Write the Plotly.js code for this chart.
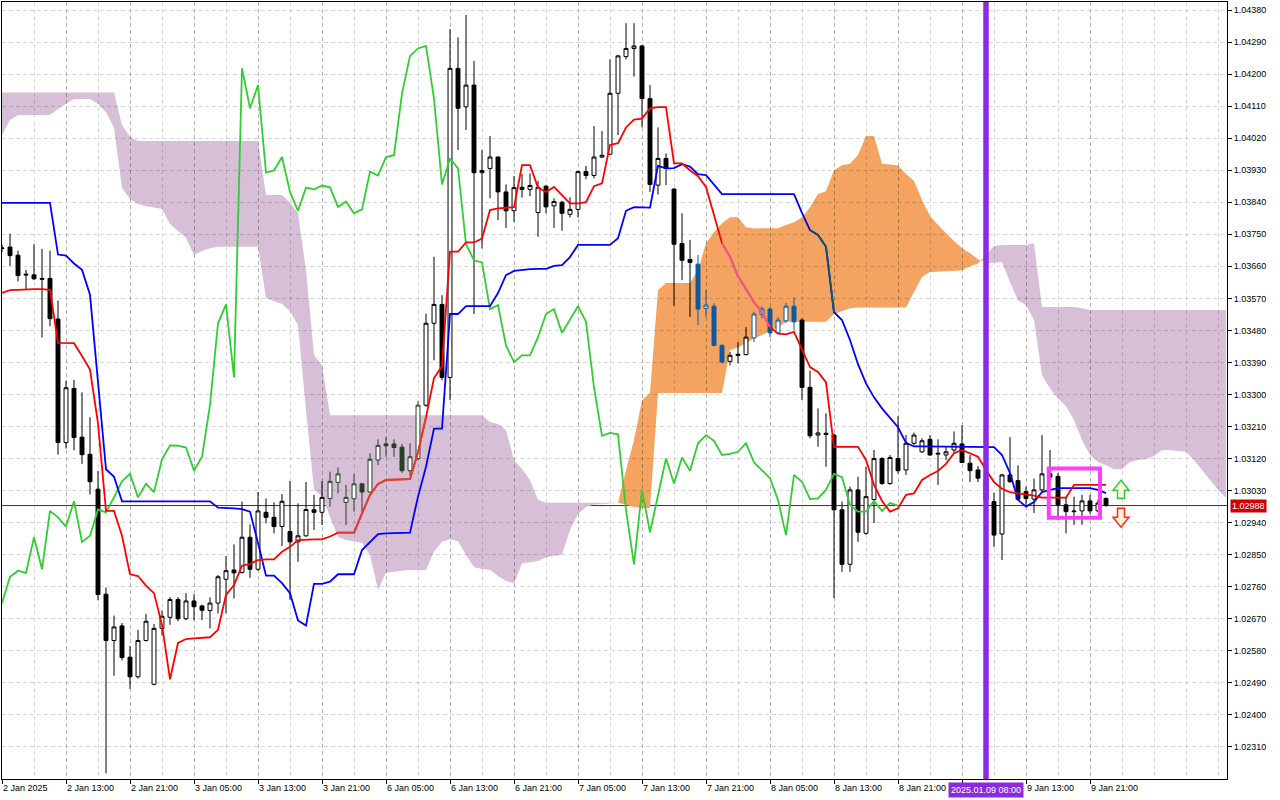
<!DOCTYPE html>
<html><head><meta charset="utf-8">
<script src="https://cdn.plot.ly/plotly-3.0.1.min.js"></script>
<style>html,body{margin:0;padding:0;background:#fff;}#chart{width:1280px;height:800px;}</style>
</head><body><div id="chart"></div>
<script>
// ---- EURUSD-like H1 bars, index 0 = 2 Jan 2025 05:00 ----
const openP = [
1.03712,1.03714,1.03691,1.03638,1.03636,1.03626,1.03626,1.03512,1.03165,1.03317,
1.03180,1.03132,1.03034,1.02739,1.02609,1.02650,1.02562,1.02507,1.02609,1.02486,
1.02643,1.02674,1.02724,1.02670,1.02720,1.02706,1.02693,1.02714,1.02781,1.02807,
1.02800,1.02899,1.02809,1.02969,1.02955,1.02929,1.02915,1.02886,1.02903,1.02976,
1.02969,1.03008,1.03053,1.02997,1.03007,1.03049,1.03026,1.03116,1.03161,1.03161,
1.03152,1.03086,1.03120,1.03270,1.03500,1.03553,1.03348,1.04216,1.04108,1.04169,
1.03923,1.03935,1.03967,1.03869,1.03816,1.03882,1.03876,1.03811,1.03885,1.03830,
1.03840,1.03806,1.03820,1.03926,1.03915,1.03967,1.03975,1.04146,1.04249,1.04272,
1.04279,1.04131,1.03888,1.03963,1.03877,1.03724,1.03679,1.03666,1.03542,1.03548,
1.03438,1.03393,1.03413,1.03412,1.03459,1.03525,1.03540,1.03473,1.03507,1.03548,
1.03509,1.03320,1.03186,1.03191,1.03186,1.02976,1.02823,1.03032,1.02910,1.03005,
1.03120,1.03050,1.03120,1.03088,1.03163,1.03139,1.03174,1.03135,1.03130,1.03144,
1.03161,1.03107,1.03088,1.03065,1.02999,1.02908,1.03074,1.03058,1.03027,1.03006,
1.03032,1.03077,1.03070,1.02990,1.02973,1.02973,1.03001,1.02973,1.03008];
const highP = [
1.03720,1.03752,1.03704,1.03650,1.03722,1.03709,1.03704,1.03564,1.03338,1.03341,
1.03306,1.03236,1.03085,1.02758,1.02679,1.02658,1.02593,1.02639,1.02684,1.02655,
1.02693,1.02731,1.02731,1.02742,1.02739,1.02709,1.02730,1.02793,1.02846,1.02879,
1.02999,1.02935,1.03026,1.03008,1.02997,1.03020,1.03057,1.02994,1.03054,1.03018,
1.03057,1.03083,1.03095,1.03046,1.03077,1.03052,1.03135,1.03174,1.03180,1.03174,
1.03161,1.03163,1.03282,1.03527,1.03687,1.03579,1.04326,1.04303,1.04366,1.04237,
1.03987,1.04026,1.03968,1.03890,1.03914,1.03919,1.03921,1.03900,1.03888,1.03851,
1.03844,1.03854,1.03928,1.03942,1.04054,1.04040,1.04241,1.04254,1.04343,1.04343,
1.04281,1.04169,1.04050,1.03977,1.03879,1.03809,1.03734,1.03692,1.03593,1.03556,
1.03440,1.03419,1.03447,1.03489,1.03532,1.03547,1.03545,1.03517,1.03557,1.03573,
1.03514,1.03367,1.03261,1.03247,1.03190,1.02999,1.03041,1.03069,1.03097,1.03144,
1.03124,1.03130,1.03239,1.03186,1.03193,1.03177,1.03186,1.03174,1.03153,1.03196,
1.03214,1.03130,1.03099,1.03088,1.03024,1.03077,1.03180,1.03101,1.03041,1.03064,
1.03186,1.03144,1.03080,1.03013,1.03013,1.03018,1.03018,1.03004,1.03011];
const lowP = [
1.03700,1.03661,1.03618,1.03596,1.03621,1.03460,1.03492,1.03131,1.03148,1.03143,
1.03105,1.03019,1.02722,1.02236,1.02510,1.02553,1.02473,1.02502,1.02606,1.02483,
1.02623,1.02653,1.02663,1.02666,1.02666,1.02666,1.02643,1.02685,1.02685,1.02727,
1.02797,1.02785,1.02805,1.02938,1.02910,1.02874,1.02723,1.02830,1.02900,1.02919,
1.02933,1.02985,1.03022,1.02933,1.02971,1.02971,1.03024,1.03102,1.03125,1.03125,
1.03080,1.03071,1.03115,1.03265,1.03396,1.03340,1.03284,1.03987,1.04043,1.03526,
1.03710,1.03851,1.03790,1.03768,1.03785,1.03853,1.03857,1.03743,1.03809,1.03768,
1.03760,1.03797,1.03797,1.03905,1.03907,1.03964,1.03972,1.04029,1.04241,1.04193,
1.04050,1.03869,1.03862,1.03888,1.03549,1.03621,1.03518,1.03495,1.03518,1.03435,
1.03387,1.03382,1.03387,1.03410,1.03447,1.03514,1.03460,1.03471,1.03501,1.03481,
1.03284,1.03177,1.03153,1.03097,1.02728,1.02802,1.02802,1.02886,1.02906,1.02939,
1.03046,1.03046,1.03078,1.03074,1.03158,1.03136,1.03128,1.03046,1.03116,1.03135,
1.03107,1.03054,1.03054,1.02995,1.02872,1.02835,1.03052,1.03001,1.02985,1.02967,
1.03027,1.03060,1.02947,1.02910,1.02934,1.02934,1.02965,1.02970,1.02985];
const closeP = [
1.03710,1.03690,1.03634,1.03636,1.03625,1.03624,1.03513,1.03165,1.03319,1.03179,
1.03131,1.03055,1.02738,1.02609,1.02647,1.02561,1.02507,1.02609,1.02663,1.02643,
1.02677,1.02724,1.02670,1.02720,1.02704,1.02694,1.02714,1.02788,1.02805,1.02799,
1.02899,1.02809,1.02973,1.02955,1.02929,1.03000,1.02886,1.02903,1.02977,1.02969,
1.03011,1.03056,1.03077,1.03011,1.03049,1.03026,1.03118,1.03157,1.03156,1.03151,
1.03086,1.03125,1.03270,1.03500,1.03553,1.03348,1.04216,1.04104,1.04169,1.03923,
1.03929,1.03967,1.03869,1.03816,1.03881,1.03876,1.03887,1.03882,1.03827,1.03842,
1.03809,1.03820,1.03926,1.03915,1.03967,1.03972,1.04146,1.04251,1.04272,1.04279,
1.04131,1.03890,1.03963,1.03935,1.03722,1.03677,1.03671,1.03540,1.03551,1.03438,
1.03391,1.03410,1.03410,1.03461,1.03526,1.03540,1.03473,1.03509,1.03548,1.03504,
1.03320,1.03184,1.03192,1.03188,1.02976,1.02823,1.03032,1.02913,1.03013,1.03120,
1.03050,1.03123,1.03086,1.03163,1.03186,1.03170,1.03130,1.03133,1.03139,1.03163,
1.03109,1.03086,1.03065,1.03004,1.02905,1.03074,1.03055,1.03006,1.03008,1.03032,
1.03077,1.03068,1.02990,1.02971,1.02971,1.03001,1.02973,1.02995,1.02988];

// Tenkan-sen (red)
const tenkan = [
1.03585,1.03593,1.03594,1.03596,1.03596,1.03596,1.03594,1.03445,1.03445,1.03444,
1.03408,1.03370,1.03219,1.02973,1.02973,1.02903,1.02795,1.02790,1.02763,1.02742,
1.02653,1.02500,1.02602,1.02613,1.02615,1.02616,1.02618,1.02639,1.02737,1.02765,
1.02819,1.02824,1.02835,1.02837,1.02837,1.02858,1.02872,1.02891,1.02893,1.02893,
1.02893,1.02901,1.02912,1.02912,1.02912,1.02966,1.03018,1.03049,1.03060,1.03061,
1.03062,1.03062,1.03138,1.03236,1.03346,1.03379,1.03701,1.03701,1.03727,1.03727,
1.03738,1.03818,1.03823,1.03825,1.03826,1.03944,1.03944,1.03881,1.03869,1.03883,
1.03861,1.03837,1.03837,1.03840,1.03885,1.03893,1.04001,1.04006,1.04050,1.04072,
1.04075,1.04104,1.04107,1.04107,1.03949,1.03949,1.03930,1.03913,1.03883,1.03804,
1.03725,1.03687,1.03632,1.03596,1.03559,1.03531,1.03489,1.03471,1.03469,1.03476,
1.03427,1.03377,1.03363,1.03334,1.03153,1.03153,1.03153,1.03153,1.03116,1.03046,
1.03001,1.02971,1.02980,1.03018,1.03022,1.03060,1.03074,1.03085,1.03105,1.03135,
1.03144,1.03134,1.03125,1.03088,1.03054,1.03035,1.03026,1.03022,1.03019,1.03016,
1.03010,1.03010,1.03010,1.03010,1.03046,1.03046,1.03046,1.03046,1.03046];

// Kijun-sen (blue)
const kijun = [
1.03838,1.03838,1.03838,1.03838,1.03838,1.03838,1.03838,1.03693,1.03690,1.03668,
1.03650,1.03580,1.03343,1.03090,1.03069,1.03000,1.03000,1.03000,1.03000,1.03000,
1.03000,1.03000,1.03000,1.03000,1.03000,1.03000,1.03000,1.02982,1.02982,1.02980,
1.02978,1.02971,1.02883,1.02791,1.02791,1.02770,1.02742,1.02665,1.02651,1.02768,
1.02768,1.02774,1.02795,1.02795,1.02795,1.02863,1.02887,1.02908,1.02910,1.02910,
1.02910,1.02912,1.03013,1.03097,1.03204,1.03204,1.03526,1.03526,1.03548,1.03548,
1.03548,1.03548,1.03585,1.03635,1.03647,1.03650,1.03652,1.03653,1.03653,1.03661,
1.03663,1.03686,1.03720,1.03720,1.03720,1.03720,1.03720,1.03739,1.03816,1.03826,
1.03825,1.03825,1.03942,1.03935,1.03936,1.03947,1.03940,1.03919,1.03916,1.03888,
1.03863,1.03863,1.03863,1.03863,1.03863,1.03863,1.03863,1.03863,1.03863,1.03863,
1.03810,1.03762,1.03748,1.03715,1.03531,1.03509,1.03453,1.03385,1.03331,1.03292,
1.03261,1.03233,1.03208,1.03164,1.03154,1.03154,1.03154,1.03154,1.03154,1.03154,
1.03154,1.03154,1.03154,1.03154,1.03152,1.03130,1.03079,1.03004,1.02985,1.02998,
1.03026,1.03032,1.03037,1.03037,1.03037,1.03037,1.03037,1.03032,1.03023];

// Chikou span (green), plotted from bar 0 to bar 112
const chikou = [
1.02714,1.02788,1.02805,1.02799,1.02899,1.02809,1.02973,1.02955,1.02929,1.03000,
1.02886,1.02903,1.02977,1.02969,1.03011,1.03056,1.03077,1.03011,1.03049,1.03026,
1.03118,1.03157,1.03156,1.03151,1.03086,1.03125,1.03270,1.03500,1.03553,1.03348,
1.04216,1.04104,1.04169,1.03923,1.03929,1.03967,1.03869,1.03816,1.03881,1.03876,
1.03887,1.03882,1.03827,1.03842,1.03809,1.03820,1.03926,1.03915,1.03967,1.03972,
1.04146,1.04251,1.04272,1.04279,1.04131,1.03890,1.03963,1.03935,1.03722,1.03677,
1.03671,1.03540,1.03551,1.03438,1.03391,1.03410,1.03410,1.03461,1.03526,1.03540,
1.03473,1.03509,1.03548,1.03504,1.03320,1.03184,1.03192,1.03188,1.02976,1.02823,
1.03032,1.02913,1.03013,1.03120,1.03050,1.03123,1.03086,1.03163,1.03186,1.03170,
1.03130,1.03133,1.03139,1.03163,1.03109,1.03086,1.03065,1.03004,1.02905,1.03074,
1.03055,1.03006,1.03008,1.03032,1.03077,1.03068,1.02990,1.02971,1.02971,1.03001,
1.02973,1.02995,1.02988];

// Senkou span A and B (bars 0..153, cloud extends past last bar)
const spanA = [
1.04029,1.04071,1.04085,1.04085,1.04085,1.04085,1.04085,1.04102,1.04117,1.04130,
1.04130,1.04130,1.04116,1.04093,1.04049,1.03880,1.03849,1.03835,1.03829,1.03825,
1.03821,1.03779,1.03759,1.03740,1.03692,1.03703,1.03711,1.03715,1.03715,1.03715,
1.03715,1.03715,1.03715,1.03571,1.03562,1.03554,1.03534,1.03495,1.03256,1.03032,
1.03015,1.02956,1.02900,1.02891,1.02888,1.02883,1.02849,1.02751,1.02799,1.02802,
1.02805,1.02807,1.02807,1.02807,1.02858,1.02886,1.02893,1.02888,1.02849,1.02815,
1.02810,1.02807,1.02790,1.02776,1.02770,1.02826,1.02829,1.02832,1.02843,1.02847,
1.02850,1.02919,1.02964,1.02984,1.02991,1.02992,1.02994,1.02995,1.03087,1.03172,
1.03284,1.03304,1.03593,1.03613,1.03613,1.03613,1.03613,1.03649,1.03725,1.03756,
1.03781,1.03798,1.03798,1.03770,1.03766,1.03767,1.03767,1.03767,1.03776,1.03784,
1.03798,1.03826,1.03863,1.03871,1.03930,1.03944,1.03948,1.03973,1.04026,1.04026,
1.03948,1.03946,1.03943,1.03919,1.03900,1.03846,1.03801,1.03776,1.03753,1.03731,
1.03711,1.03697,1.03680,1.03669,1.03670,1.03672,1.03616,1.03564,1.03551,1.03509,
1.03354,1.03317,1.03289,1.03267,1.03228,1.03172,1.03130,1.03110,1.03101,1.03090,
1.03090,1.03110,1.03116,1.03119,1.03127,1.03143,1.03144,1.03141,1.03139,1.03116,
1.03088,1.03060,1.03032,1.03010];
const spanB = [
1.04148,1.04148,1.04148,1.04148,1.04148,1.04148,1.04148,1.04148,1.04148,1.04148,
1.04148,1.04148,1.04148,1.04148,1.04148,1.04057,1.04024,1.04012,1.04012,1.04012,
1.04012,1.04012,1.04012,1.04012,1.04012,1.04012,1.04012,1.04012,1.04012,1.04012,
1.04012,1.04012,1.04012,1.03860,1.03860,1.03860,1.03838,1.03809,1.03649,1.03410,
1.03382,1.03242,1.03242,1.03242,1.03242,1.03242,1.03242,1.03242,1.03242,1.03242,
1.03242,1.03242,1.03242,1.03242,1.03242,1.03242,1.03242,1.03242,1.03242,1.03242,
1.03242,1.03223,1.03217,1.03200,1.03116,1.03091,1.03060,1.03004,1.02996,1.02996,
1.02996,1.02996,1.02996,1.02996,1.02996,1.02996,1.02996,1.02996,1.02990,1.02984,
1.02981,1.02981,1.03304,1.03304,1.03304,1.03304,1.03304,1.03304,1.03304,1.03304,
1.03304,1.03425,1.03433,1.03444,1.03458,1.03467,1.03478,1.03489,1.03504,1.03504,
1.03504,1.03504,1.03504,1.03504,1.03526,1.03534,1.03542,1.03544,1.03544,1.03544,
1.03544,1.03544,1.03544,1.03544,1.03588,1.03630,1.03644,1.03645,1.03646,1.03647,
1.03649,1.03660,1.03668,1.03692,1.03717,1.03720,1.03720,1.03720,1.03720,1.03725,
1.03546,1.03546,1.03546,1.03546,1.03546,1.03542,1.03537,1.03537,1.03537,1.03537,
1.03537,1.03537,1.03537,1.03537,1.03537,1.03537,1.03537,1.03537,1.03537,1.03537,
1.03537,1.03537,1.03537,1.03537];

// time axis labels (every 8 bars)
const labelBars = [0,8,16,24,32,40,48,56,64,72,80,88,96,104,112,120,128,136];
const labelText = ['2 Jan 2025','2 Jan 13:00','2 Jan 21:00','3 Jan 05:00','3 Jan 13:00','3 Jan 21:00',
  '6 Jan 05:00','6 Jan 13:00','6 Jan 21:00','7 Jan 05:00','7 Jan 13:00','7 Jan 21:00',
  '8 Jan 05:00','8 Jan 13:00','8 Jan 21:00','','9 Jan 13:00','9 Jan 21:00'];
// price axis labels
const priceTicks = [1.02310,1.02400,1.02490,1.02580,1.02670,1.02760,1.02850,1.02940,1.03030,1.03120,
  1.03210,1.03300,1.03390,1.03480,1.03570,1.03660,1.03750,1.03840,1.03930,1.04020,1.04110,1.04200,1.04290,1.04380];
const lastPrice = 1.02988;
const markerBar = 123;
const markerText = '2025.01.09 08:00';

// ---------------- build ----------------
const C = {bull:'#F4A460', bear:'#D8BFD8', grid:'rgba(0,0,0,0.15)'};
const traces = [];
const cloudShapes = [];

// cloud polygons, split where span A crosses span B (drawn as shapes under the grid)
(function(){
  const polys = [];
  let cur = null;
  for (let k = 0; k < spanA.length; k++) {
    const d = spanA[k] - spanB[k];
    const bull = d > 0;
    if (!cur) cur = {bull, top:[], bot:[]};
    else if (cur.bull !== bull) {
      const d0 = spanA[k-1] - spanB[k-1];
      const t = d0 / (d0 - d);
      const xc = k - 1 + t, yc = spanA[k-1] + t * (spanA[k] - spanA[k-1]);
      cur.top.push([xc, yc]); cur.bot.push([xc, yc]);
      polys.push(cur);
      cur = {bull, top:[[xc, yc]], bot:[[xc, yc]]};
    }
    cur.top.push([k, spanA[k]]); cur.bot.push([k, spanB[k]]);
  }
  polys.push(cur);
  polys.forEach(p => {
    const pts = p.top.concat(p.bot.slice().reverse());
    const path = 'M' + pts.map(q => q[0] + ',' + q[1]).join(' L') + ' Z';
    cloudShapes.push({type:'path', xref:'x', yref:'y', path, layer:'below',
      fillcolor: p.bull ? C.bull : C.bear, line:{width:0, color:'rgba(0,0,0,0)'}});
  });
})();

function cloudState(k, v) {
  if (k >= spanA.length) return 'none';
  const a = spanA[k], b = spanB[k];
  if (v > Math.min(a,b) && v < Math.max(a,b)) return a >= b ? 'orange' : 'purple';
  return 'none';
}

// candles (colour inverted where they sit inside the cloud)
const candleStyle = {
  none:  {line:'#000000', up:'#ffffff', down:'#000000'},
  orange:{line:'#0b5b9f', up:'#ffffff', down:'#0b5b9f'},
  purple:{line:'#274027', up:'#ffffff', down:'#274027'}
};
const groups = {none:[], orange:[], purple:[]};
openP.forEach((o, k) => groups[cloudState(k, (o + closeP[k]) / 2)].push(k));
Object.keys(groups).forEach(g => {
  const ks = groups[g]; if (!ks.length) return;
  const s = candleStyle[g];
  traces.push({type:'candlestick', x:ks, open:ks.map(k=>openP[k]), high:ks.map(k=>highP[k]),
    low:ks.map(k=>lowP[k]), close:ks.map(k=>closeP[k]), whiskerwidth:0,
    increasing:{line:{color:s.line, width:1}, fillcolor:s.up},
    decreasing:{line:{color:s.line, width:1}, fillcolor:s.down},
    hoverinfo:'skip'});
});

const barIdx = n => Array.from({length:n}, (_, i) => i);
function overlay(vals, state) { return vals.map((v,k)=> cloudState(k, v) === state ? v : null); }

traces.push({type:'scatter', mode:'lines', x:barIdx(chikou.length), y:chikou,
  line:{color:'#32CD32', width:1.8}, hoverinfo:'skip'});
traces.push({type:'scatter', mode:'lines', x:barIdx(kijun.length), y:kijun,
  line:{color:'#0000FF', width:1.8}, hoverinfo:'skip'});
traces.push({type:'scatter', mode:'lines', x:barIdx(kijun.length), y:overlay(kijun,'orange'),
  line:{color:'#0b5b5f', width:1.8}, connectgaps:false, hoverinfo:'skip'});
traces.push({type:'scatter', mode:'lines', x:barIdx(tenkan.length), y:tenkan,
  line:{color:'#FF0000', width:1.8}, hoverinfo:'skip'});
traces.push({type:'scatter', mode:'lines', x:barIdx(tenkan.length), y:overlay(tenkan,'orange'),
  line:{color:'#ee5a9c', width:1.8}, connectgaps:false, hoverinfo:'skip'});
traces.push({type:'scatter', mode:'lines', x:barIdx(tenkan.length), y:overlay(tenkan,'purple'),
  line:{color:'#e2402e', width:1.8}, connectgaps:false, hoverinfo:'skip'});

const font = 'Liberation Sans, Arial, sans-serif';
const lastBar = openP.length - 1;
const layout = {
  width:1280, height:800,
  margin:{l:2, r:53, t:2, b:21, pad:0},
  paper_bgcolor:'#ffffff', plot_bgcolor:'#ffffff',
  showlegend:false,
  font:{family:font, size:9, color:'#000000'},
  xaxis:{type:'linear', range:[0, 153.125], fixedrange:true,
    showline:true, linecolor:'#000000', linewidth:1, mirror:true, zeroline:false,
    tickmode:'array', tickvals:labelBars, ticktext:labelText,
    ticks:'outside', ticklen:4, tickcolor:'#000000', tickwidth:1,
    ticklabelposition:'outside right',
    showgrid:true, gridcolor:C.grid, griddash:'4px,3px', gridwidth:1,
    minor:{tickmode:'linear', tick0:0, dtick:4, showgrid:true, gridcolor:C.grid, griddash:'4px,3px', ticks:''},
    rangeslider:{visible:false}},
  yaxis:{side:'right', range:[1.0221989, 1.0440247], fixedrange:true,
    tickmode:'array', tickvals:priceTicks, ticktext:priceTicks.map(v => v.toFixed(5)),
    ticks:'outside', ticklen:4, tickcolor:'#000000',
    showline:true, linecolor:'#000000', linewidth:1, mirror:true, zeroline:false,
    showgrid:true, gridcolor:C.grid, griddash:'4px,3px', gridwidth:1},
  shapes: cloudShapes.concat([
    {type:'line', xref:'paper', x0:0, x1:1, yref:'y', y0:lastPrice, y1:lastPrice,
     line:{color:'#b00000', width:1}, layer:'between'},
    {type:'line', xref:'x', x0:markerBar, x1:markerBar, yref:'paper', y0:0, y1:1,
     line:{color:'#8A2BE2', width:5.5}},
    {type:'rect', xref:'x', x0:130.85, x1:137.25, yref:'y', y0:1.02954, y1:1.03092,
     line:{color:'#FF3DFF', width:4}, fillcolor:'rgba(0,0,0,0)'},
    {type:'path', xref:'x', yref:'y', xsizemode:'pixel', ysizemode:'pixel',
     xanchor:lastBar + 1.875, yanchor:1.03034,
     path:'M0,9 L8,-1 L3.5,-1 L3.5,-9 L-3.5,-9 L-3.5,-1 L-8,-1 Z',
     line:{color:'#3cc83c', width:1.5}, fillcolor:'rgba(240,255,200,0.6)'},
    {type:'path', xref:'x', yref:'y', xsizemode:'pixel', ysizemode:'pixel',
     xanchor:lastBar + 1.875, yanchor:1.02954,
     path:'M0,-9.5 L8,0.5 L3.5,0.5 L3.5,9.5 L-3.5,9.5 L-3.5,0.5 L-8,0.5 Z',
     line:{color:'#ff2a10', width:1.5}, fillcolor:'rgba(255,235,200,0.6)'}
  ]),
  annotations:[
    {xref:'paper', x:1, xanchor:'left', xshift:3, yref:'y', y:lastPrice, yanchor:'middle',
     text:lastPrice.toFixed(5), showarrow:false, font:{family:font, size:9, color:'#ffffff'},
     bgcolor:'#d00000', borderpad:1},
    {xref:'x', x:markerBar, xanchor:'center', yref:'paper', y:0, yanchor:'top', yshift:-3,
     text:markerText, showarrow:false, font:{family:font, size:9, color:'#ffffff'},
     bgcolor:'#8A2BE2', borderpad:2}
  ]
};
Plotly.newPlot('chart', traces, layout, {staticPlot:true, displayModeBar:false});
</script></body></html>
